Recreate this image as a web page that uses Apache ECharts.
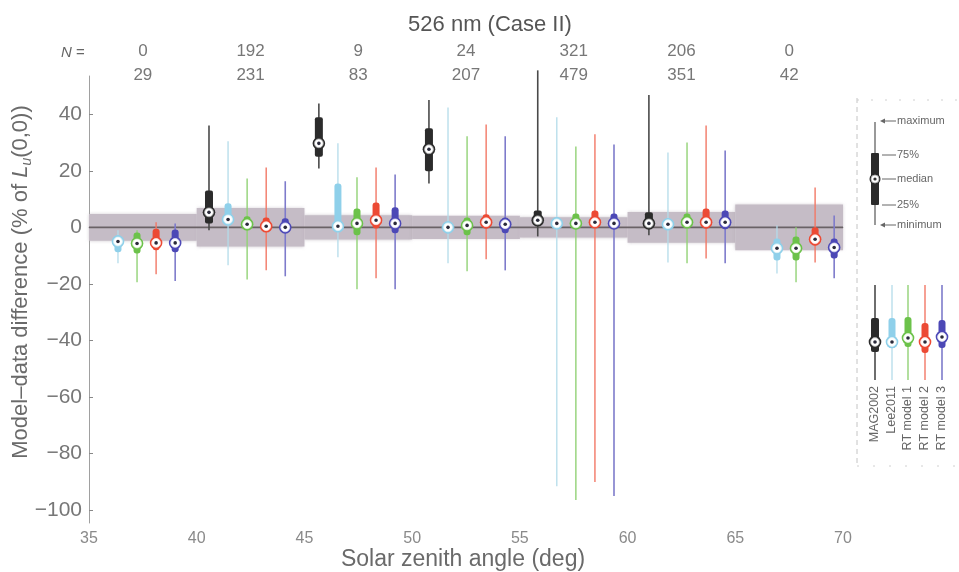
<!DOCTYPE html>
<html><head><meta charset="utf-8">
<script src="https://cdn.jsdelivr.net/npm/echarts@6/dist/echarts.min.js"></script>
<style>html,body{margin:0;padding:0;background:#fff}#c{width:959px;height:572px}</style>
</head><body><div id="c"></div>
<script>
// ---------- data ----------
const binStarts = [35, 40, 45, 50, 55, 60, 65];
const binWidth = 5;
const bandHalf = [4.7, 6.8, 4.3, 4.1, 3.6, 5.4, 8.1];          // shaded uncertainty (+/-)
const groupCenters = [37.23, 42.34, 47.44, 52.55, 57.6, 62.76, 67.82]; // SZA of middle box
const nRow1 = [0, 192, 9, 24, 321, 206, 0];
const nRow2 = [29, 231, 83, 207, 479, 351, 42];
const modelNames = ['MAG2002', 'Lee2011', 'RT model 1', 'RT model 2', 'RT model 3'];
// [min, 25%, median, 75%, max] per bin
const mag2002 = [null, [-1, 1.4, 5.3, 13, 36], [20.8, 25, 29.7, 38.9, 43.8], [15.5, 19.8, 27.6, 35, 45],
  [-3.2, 1.4, 2.5, 6, 55.5], [-2.8, 0, 1.4, 5.3, 46.8], null];
const lee2011 = [[-12.7, -8.8, -5, -2.8, -1], [-13.4, 1.4, 2.8, 8.5, 30.4], [-10.6, -1, 0.4, 15.5, 29.7],
  [-12.7, -2.1, 0, 1.8, 42.4], [-91.5, -0.4, 1.4, 3.5, 38.9], [-12.4, -0.4, 1.1, 3.2, 26.5], [-16.3, -11.7, -7.4, -3.9, 0.7]];
const rtModel1 = [[-19.4, -9.2, -5.7, -1.8, -1], [-18.4, -1, 1.1, 3.9, 17.3], [-21.9, -2.8, 1.4, 6.7, 17.7],
  [-15.5, -2.8, 0.7, 3.5, 32.2], [-96.4, -0.4, 1.4, 4.9, 28.6], [-12.7, 0, 1.8, 4.9, 30], [-19.4, -11.7, -7.4, -3.2, 0]];
const rtModel2 = [[-16.6, -8.1, -5.5, -0.5, 1.8], [-15.2, -1, 0.4, 3.5, 21.2], [-18, -0.4, 2.5, 8.8, 21.2],
  [-11.3, -0.4, 1.8, 4.6, 36.4], [-90, 0, 1.8, 6, 32.9], [-11, -0.4, 1.8, 6.7, 36], [-12.4, -6.4, -4.2, 0, 14.1]];
const rtModel3 = [[-19, -8.8, -5.5, -0.8, 1.4], [-17.3, -1.8, 0, 3.2, 16.3], [-21.9, -2.1, 1.4, 7.1, 18.7],
  [-15.2, -2.1, 1.1, 3.5, 32.2], [-95, -0.4, 1.4, 4.9, 29.3], [-12.7, -0.7, 1.8, 6, 27.2], [-18, -11, -7.1, -3.9, 4.2]];
const yTicks = [-100, -80, -60, -40, -20, 0, 20, 40];

// ---------- styles ----------
const FONT = 'Liberation Sans, Arial, sans-serif';
const styles = [
  {box: '#2b2b2b', whisker: '#4a4a4a', wl: 1.6, w: 8, r: 2, ring: '#aaa'},
  {box: '#8fd0ea', whisker: '#b4dcea', wl: 1.3, w: 7, r: 3, ring: '#dff2f8'},
  {box: '#6cc24a', whisker: '#92d276', wl: 1.4, w: 7, r: 3, ring: '#e4f5dc'},
  {box: '#ec4a34', whisker: '#f27866', wl: 1.4, w: 7, r: 3, ring: '#fbe0da'},
  {box: '#4c48b6', whisker: '#7e7bcb', wl: 1.6, w: 7, r: 3, ring: '#e0e0f4'}
];
const dodge = 0.885;
const allModels = [mag2002, lee2011, rtModel1, rtModel2, rtModel3];

function glyph(cx, yMin, yQ1, yMed, yQ3, yMax, st) {
  return [
    {type: 'line', shape: {x1: cx, y1: yMin, x2: cx, y2: yMax}, style: {stroke: st.whisker, lineWidth: st.wl}},
    {type: 'rect', shape: {x: cx - st.w / 2, y: yQ3, width: st.w, height: Math.max(yQ1 - yQ3, 4), r: st.r}, style: {fill: st.box}},
    {type: 'circle', shape: {cx: cx, cy: yMed, r: 6.3}, style: {fill: st.box}},
    {type: 'circle', shape: {cx: cx, cy: yMed, r: 4.4}, style: {fill: '#fff', stroke: st.ring, lineWidth: 0.8}},
    {type: 'circle', shape: {cx: cx, cy: yMed, r: 1.8}, style: {fill: '#2a2a3a'}}
  ];
}

function boxRender(st) {
  return function (params, api) {
    const x = api.value(0);
    const p = [1, 2, 3, 4, 5].map(i => api.coord([x, api.value(i)]));
    return {type: 'group', children: glyph(p[0][0], p[0][1], p[1][1], p[2][1], p[3][1], p[4][1], st)};
  };
}

const boxSeries = allModels.map((arr, mi) => ({
  name: modelNames[mi], type: 'custom', z: 5 + mi,
  renderItem: boxRender(styles[mi]),
  data: arr.map((v, bi) => v ? [groupCenters[bi] + (mi - 2) * dodge].concat(v) : null).filter(d => d),
  encode: {x: 0, y: [1, 2, 3, 4, 5]}
}));

const bandSeries = {
  type: 'custom', z: 1, silent: true,
  renderItem: function (params, api) {
    const a = api.coord([api.value(0), api.value(2)]);
    const b = api.coord([api.value(1), -api.value(2)]);
    return {type: 'rect', shape: {x: a[0], y: a[1], width: b[0] - a[0], height: b[1] - a[1]},
      style: {fill: '#c5bcc6', shadowBlur: 3, shadowColor: 'rgba(180,170,182,0.6)'}};
  },
  data: binStarts.map((s, i) => [s, s + binWidth, bandHalf[i]]),
  encode: {x: [0, 1], y: 2}
};

const zeroLine = {
  type: 'line', z: 2, symbol: 'none', silent: true,
  data: [[binStarts[0], 0], [binStarts[binStarts.length - 1] + binWidth, 0]],
  lineStyle: {color: '#6a6266', width: 1.6}
};

const chart = echarts.init(document.getElementById('c'), null, {renderer: 'canvas'});
chart.setOption({
  animation: false,
  backgroundColor: '#fff',
  grid: {left: 89, right: 116, top: 76, bottom: 49, containLabel: false},
  xAxis: {
    type: 'value', min: 35, max: 70, interval: 5,
    axisLine: {lineStyle: {color: '#a8a8a8', width: 1}},
    axisTick: {show: false}, splitLine: {show: false},
    axisLabel: {fontSize: 16, color: '#8a8a8a', fontFamily: FONT, margin: 8}
  },
  yAxis: {
    type: 'value', min: -104.5, max: 53.5,
    axisLine: {show: true, lineStyle: {color: '#a0a0a0', width: 1}},
    axisTick: {show: true, inside: true, length: 4, customValues: yTicks, lineStyle: {color: '#888'}},
    splitLine: {show: false},
    axisLabel: {customValues: yTicks, fontSize: 21, color: '#777', fontFamily: FONT, margin: 7,
      formatter: v => (v < 0 ? '\u2212' + Math.abs(v) : String(v))}
  },
  series: [bandSeries, zeroLine].concat(boxSeries)
});

// ---------- annotation text & legend ----------
const g = [];
g.push({type: 'text', x: 490, y: 25, style: {text: '526 nm (Case II)', font: '22px ' + FONT, fill: '#555', align: 'center', verticalAlign: 'middle'}});
g.push({type: 'text', x: 73, y: 53, style: {rich: {i: {fontStyle: 'italic', fontSize: 15, fontFamily: FONT, fill: '#666'}, n: {fontSize: 15, fontFamily: FONT, fill: '#666'}},
  text: '{i|N}{n| =}', align: 'center', verticalAlign: 'middle'}});
binStarts.forEach((s, i) => {
  const px = chart.convertToPixel({xAxisIndex: 0}, s + binWidth / 2);
  g.push({type: 'text', x: px, y: 51, style: {text: String(nRow1[i]), font: '17px ' + FONT, fill: '#777', align: 'center', verticalAlign: 'middle'}});
  g.push({type: 'text', x: px, y: 75, style: {text: String(nRow2[i]), font: '17px ' + FONT, fill: '#777', align: 'center', verticalAlign: 'middle'}});
});
g.push({type: 'text', x: 463, y: 560, style: {text: 'Solar zenith angle (deg)', font: '23px ' + FONT, fill: '#6a6a6a', align: 'center', verticalAlign: 'middle'}});
g.push({type: 'text', x: 21, y: 282, rotation: Math.PI / 2,
  style: {text: '{a|Model\u2013data difference (% of }{i|L}{s|u}{a|(0,0))}', align: 'center', verticalAlign: 'middle',
    rich: {a: {fontSize: 22, fontFamily: FONT, fill: '#6a6a6a', lineHeight: 26},
      i: {fontSize: 22, fontFamily: FONT, fontStyle: 'italic', fill: '#6a6a6a', lineHeight: 26},
      s: {fontSize: 14, fontFamily: FONT, fontStyle: 'italic', fill: '#6a6a6a', lineHeight: 26, verticalAlign: 'bottom', padding: [10, 0, 0, 0]}}}});

// legend frame
g.push({type: 'line', shape: {x1: 857, y1: 98, x2: 857, y2: 466}, style: {stroke: '#c4c4c4', lineWidth: 1, lineDash: [5, 4]}});
g.push({type: 'line', shape: {x1: 857, y1: 100, x2: 959, y2: 100}, style: {stroke: '#d0d0d0', lineWidth: 1, lineDash: [2, 12]}});
g.push({type: 'line', shape: {x1: 857, y1: 466, x2: 959, y2: 466}, style: {stroke: '#d0d0d0', lineWidth: 1, lineDash: [2, 14]}});

// explanation glyph
const ex = 875;
g.push({type: 'line', shape: {x1: ex, y1: 122, x2: ex, y2: 225}, style: {stroke: '#555', lineWidth: 1.2}});
g.push({type: 'rect', shape: {x: ex - 4, y: 153, width: 8, height: 52, r: 1}, style: {fill: '#2b2b2b'}});
g.push({type: 'circle', shape: {cx: ex, cy: 179, r: 5.5}, style: {fill: '#2b2b2b'}});
g.push({type: 'circle', shape: {cx: ex, cy: 179, r: 4}, style: {fill: '#fff', stroke: '#aaa', lineWidth: 0.8}});
g.push({type: 'circle', shape: {cx: ex, cy: 179, r: 1.6}, style: {fill: '#333'}});
const expl = [['maximum', 121, true], ['75%', 155, false], ['median', 179, false], ['25%', 205, false], ['minimum', 225, true]];
expl.forEach(([t, y, arrow]) => {
  g.push({type: 'line', shape: {x1: 882, y1: y, x2: 896, y2: y}, style: {stroke: '#666', lineWidth: 1}});
  if (arrow) g.push({type: 'polygon', shape: {points: [[880, y], [885, y - 2.5], [885, y + 2.5]]}, style: {fill: '#666'}});
  g.push({type: 'text', x: 897, y: y, style: {text: t, font: '11px ' + FONT, fill: '#666', align: 'left', verticalAlign: 'middle'}});
});

// model legend glyphs
const lgX = [875, 892, 908, 925, 942];
const lgBox = [[318, 352, 342], [318, 348, 342], [317, 347, 338], [323, 353, 342], [320, 348, 337]];
lgX.forEach((x, i) => {
  const st = styles[i];
  glyph(x, 380, lgBox[i][1], lgBox[i][2], lgBox[i][0], 285, st).forEach(el => g.push(el));
  g.push({type: 'text', x: x, y: 386, rotation: Math.PI / 2,
    style: {text: modelNames[i], font: '12.5px ' + FONT, fill: '#666', align: 'right', verticalAlign: 'middle'}});
});
chart.setOption({graphic: {elements: g}});
</script></body></html>
